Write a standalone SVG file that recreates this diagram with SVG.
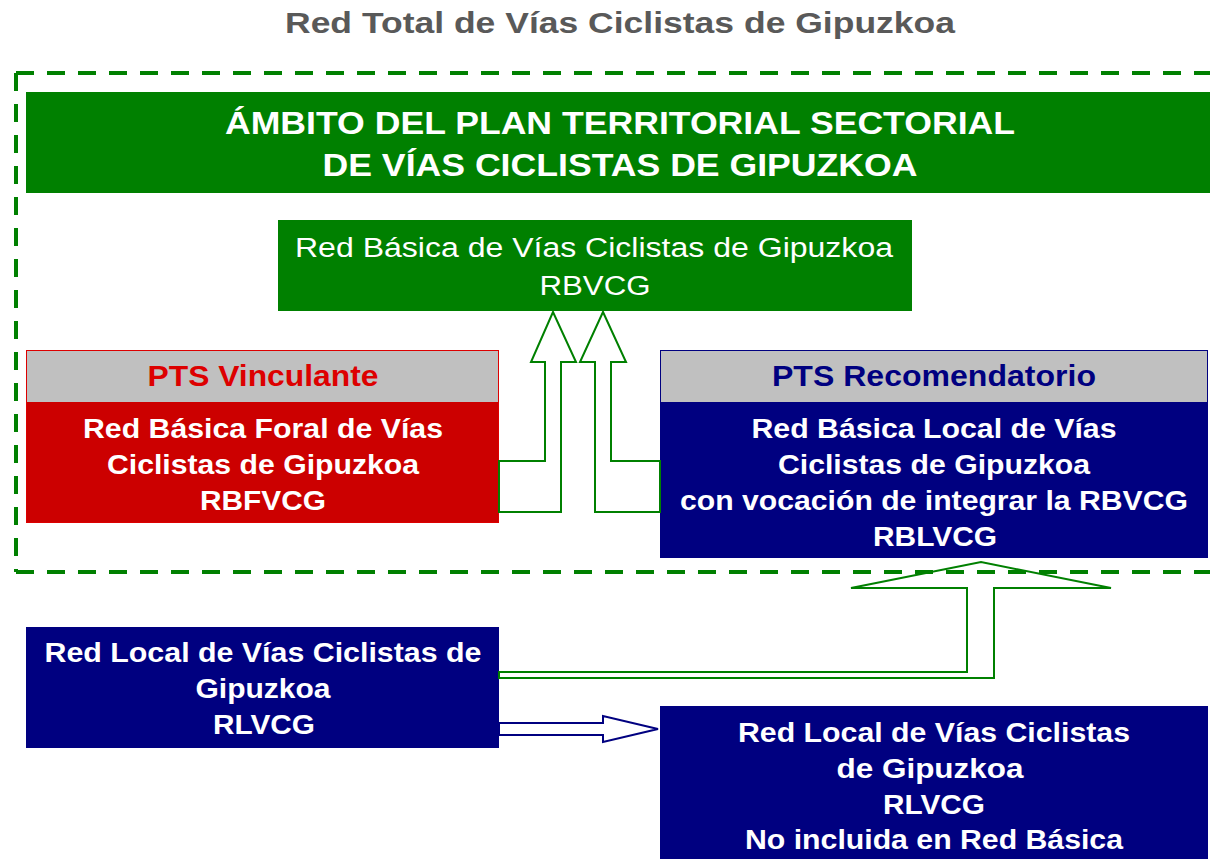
<svg xmlns="http://www.w3.org/2000/svg" width="1210" height="859" viewBox="0 0 1210 859">
<style>
text{font-family:"Liberation Sans",Arial,sans-serif;text-anchor:middle}
.b{font-weight:bold}
.w{fill:#ffffff}
.body{font-size:27px;font-weight:bold;fill:#ffffff}
.dash{stroke:#008000;stroke-width:4;stroke-dasharray:18 13;fill:none}
.ga{fill:none;stroke:#008000;stroke-width:2}
.na{fill:none;stroke:#000080;stroke-width:2}
</style>
<rect width="1210" height="859" fill="#ffffff"/>
<text x="620" y="33" class="b" font-size="29" fill="#595959" textLength="670" lengthAdjust="spacingAndGlyphs">Red Total de Vías Ciclistas de Gipuzkoa</text>
<g id="ambito">
<line class="dash" x1="16" y1="73" x2="1215" y2="73"/>
<line class="dash" x1="16" y1="73" x2="16" y2="572"/>
<line class="dash" x1="16" y1="572" x2="1215" y2="572"/>
</g>
<g id="header">
<rect x="26" y="92" width="1190" height="101" fill="#008000"/>
<text x="620" y="134" class="b w" font-size="31" textLength="790" lengthAdjust="spacingAndGlyphs">ÁMBITO DEL PLAN TERRITORIAL SECTORIAL</text>
<text x="620" y="176" class="b w" font-size="31" textLength="595" lengthAdjust="spacingAndGlyphs">DE VÍAS CICLISTAS DE GIPUZKOA</text>
</g>
<g id="rbvcg">
<rect x="278" y="220" width="634" height="91" fill="#008000"/>
<text x="594" y="257" class="w" font-size="27" textLength="598" lengthAdjust="spacingAndGlyphs">Red Básica de Vías Ciclistas de Gipuzkoa</text>
<text x="595" y="295" class="w" font-size="27" textLength="111" lengthAdjust="spacingAndGlyphs">RBVCG</text>
</g>
<g id="vinculante">
<rect x="26.5" y="350.5" width="472" height="172" fill="#cc0000" stroke="#dd0000"/>
<rect x="27" y="351" width="471" height="51" fill="#c0c0c0"/>
<text x="263" y="386" class="b" font-size="29" fill="#dd0000" textLength="231" lengthAdjust="spacingAndGlyphs">PTS Vinculante</text>
<text x="263" y="438" class="body" textLength="360" lengthAdjust="spacingAndGlyphs">Red Básica Foral de Vías</text>
<text x="263" y="474" class="body" textLength="312" lengthAdjust="spacingAndGlyphs">Ciclistas de Gipuzkoa</text>
<text x="263" y="510" class="body" textLength="126" lengthAdjust="spacingAndGlyphs">RBFVCG</text>
</g>
<g id="recomendatorio">
<rect x="660.5" y="350.5" width="547" height="207" fill="#000080" stroke="#000080"/>
<rect x="661" y="351" width="546" height="51" fill="#c0c0c0"/>
<text x="934" y="386" class="b" font-size="29" fill="#000080" textLength="324" lengthAdjust="spacingAndGlyphs">PTS Recomendatorio</text>
<text x="934" y="438" class="body" textLength="365" lengthAdjust="spacingAndGlyphs">Red Básica Local de Vías</text>
<text x="934" y="474" class="body" textLength="312" lengthAdjust="spacingAndGlyphs">Ciclistas de Gipuzkoa</text>
<text x="934" y="510" class="body" textLength="508" lengthAdjust="spacingAndGlyphs">con vocación de integrar la RBVCG</text>
<text x="935" y="546" class="body" textLength="124" lengthAdjust="spacingAndGlyphs">RBLVCG</text>
</g>
<g id="rlvcg">
<rect x="26" y="627" width="473" height="121" fill="#000080"/>
<text x="263" y="662" class="body" textLength="437" lengthAdjust="spacingAndGlyphs">Red Local de Vías Ciclistas de</text>
<text x="263" y="698" class="body" textLength="135" lengthAdjust="spacingAndGlyphs">Gipuzkoa</text>
<text x="264" y="734" class="body" textLength="102" lengthAdjust="spacingAndGlyphs">RLVCG</text>
</g>
<g id="rlvcg-no">
<rect x="660" y="706" width="548" height="160" fill="#000080"/>
<text x="934" y="742" class="body" textLength="392" lengthAdjust="spacingAndGlyphs">Red Local de Vías Ciclistas</text>
<text x="930" y="778" class="body" textLength="187" lengthAdjust="spacingAndGlyphs">de Gipuzkoa</text>
<text x="934" y="814" class="body" textLength="102" lengthAdjust="spacingAndGlyphs">RLVCG</text>
<text x="934" y="849" class="body" textLength="378" lengthAdjust="spacingAndGlyphs">No incluida en Red Básica</text>
</g>
<g id="connectors">
<polygon class="ga" points="499,461 545,461 545,362 531,362 553,312 576,362 561,362 561,512 499,512"/>
<polygon class="ga" points="660,461 611,461 611,362 626,362 603,312 580,362 595,362 595,512 660,512"/>
<polygon class="ga" points="499,672 967,672 967,588 851,588 981,562 1111,588 994,588 994,678 499,678"/>
<polygon class="na" points="499,723 603,723 603,716 658,729 603,742 603,735 499,735"/>
</g>
</svg>
